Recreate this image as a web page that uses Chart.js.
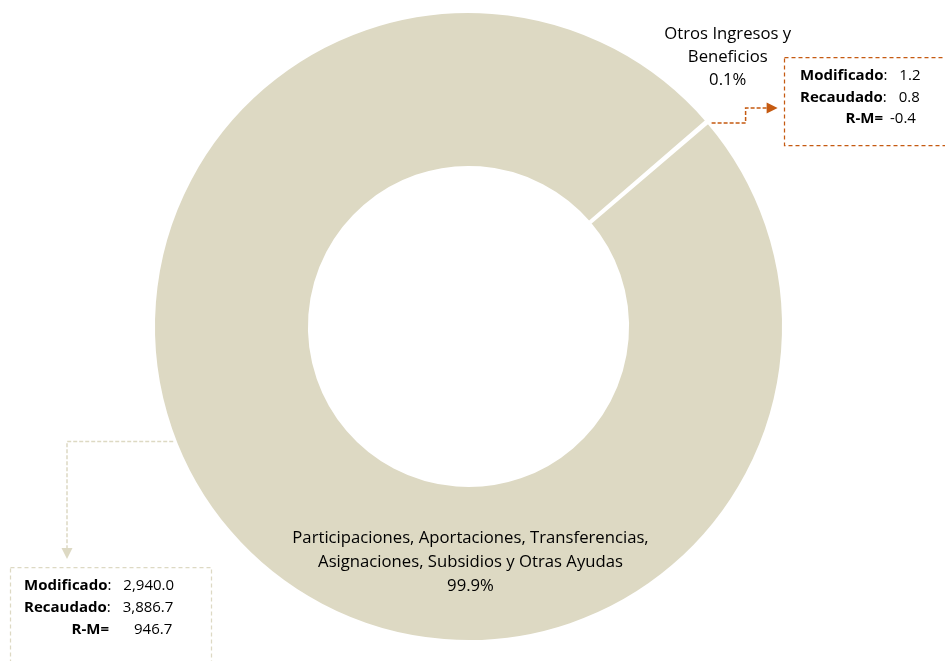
<!DOCTYPE html>
<html>
<head>
<meta charset="utf-8">
<script src="https://cdn.jsdelivr.net/npm/chart.js@4.4.1/dist/chart.umd.min.js"></script>
<style>
html,body{margin:0;padding:0;background:#fff;}
#wrap{width:945px;height:661px;position:relative;}
</style>
</head>
<body>
<div id="wrap"><canvas id="c"></canvas></div>
<script>
const categories = ['Otros Ingresos y Beneficios', 'Participaciones, Aportaciones, Transferencias, Asignaciones, Subsidios y Otras Ayudas'];
const labelLines = [['Otros Ingresos y', 'Beneficios'], ['Participaciones, Aportaciones, Transferencias,', 'Asignaciones, Subsidios y Otras Ayudas']];
const shares = [0.1, 99.9];
const modificado = [1.2, 2940.0];
const recaudado = [0.8, 3886.7];
const diferencia = [-0.4, 946.7];

const FONT = '"Open Sans", "Noto Sans", sans-serif';
const BEIGE = '#DDD9C3';
const ORANGE = '#C55A11';

function fmt(v){
  return v.toLocaleString('en-US',{minimumFractionDigits:1, maximumFractionDigits:1});
}

function arrow(ctx, x, y, dir, color){
  ctx.save();
  ctx.fillStyle = color;
  ctx.beginPath();
  if (dir === 'right'){
    ctx.moveTo(x, y); ctx.lineTo(x-11, y-5.5); ctx.lineTo(x-11, y+5.5);
  } else {
    ctx.moveTo(x, y); ctx.lineTo(x-5.5, y-11); ctx.lineTo(x+5.5, y-11);
  }
  ctx.closePath(); ctx.fill();
  ctx.restore();
}

function callout(ctx, x, y, w, h, color, i, lh, rmGap, pad){
  ctx.save();
  ctx.strokeStyle = color; ctx.lineWidth = 1.25; ctx.setLineDash([4,3]);
  ctx.strokeRect(x+0.5, y+0.5, w, h);
  ctx.setLineDash([]);
  ctx.fillStyle = '#000';
  ctx.textBaseline = 'middle';
  ctx.textAlign = 'left';
  const rows = [['Modificado', modificado[i]], ['Recaudado', recaudado[i]]];
  let yy = y + 19;
  rows.forEach(r => {
    ctx.font = 'bold 15px ' + FONT;
    ctx.fillText(r[0], x + pad, yy);
    const bw = ctx.measureText(r[0]).width;
    ctx.font = '15px ' + FONT;
    ctx.fillText(':', x + pad + bw, yy);
    const cw = ctx.measureText(':').width;
    ctx.fillText(fmt(r[1]), x + pad + bw + cw + 12, yy);
    yy += lh;
  });
  ctx.font = 'bold 15px ' + FONT;
  ctx.textAlign = 'right';
  ctx.fillText('R-M=', x + 99, yy);
  ctx.font = '15px ' + FONT;
  ctx.textAlign = 'left';
  ctx.fillText(fmt(diferencia[i]), x + 99 + rmGap, yy);
  ctx.restore();
}

const labelPlugin = {
  id: 'labelsAndCallouts',
  afterDraw(chart){
    const ctx = chart.ctx;
    const meta = chart.getDatasetMeta(0);
    const a0 = meta.data[0];
    const cx = a0.x, cy = a0.y, R = a0.outerRadius;
    ctx.save();
    ctx.fillStyle = '#000';
    ctx.textAlign = 'center';
    ctx.textBaseline = 'middle';
    ctx.font = '16.7px ' + FONT;
    // small slice label
    let lx = cx + R*0.823, ly = cy - R*0.929;
    labelLines[0].concat([shares[0].toFixed(1) + '%']).forEach((t, k) => ctx.fillText(t, lx, ly + k*23));
    // big slice label
    lx = cx + 2; ly = cy + R*0.672;
    labelLines[1].concat([shares[1].toFixed(1) + '%']).forEach((t, k) => ctx.fillText(t, lx, ly + k*24));
    ctx.restore();

    // connector for small slice (from gap on outer edge)
    const ang = (a0.startAngle + a0.endAngle) / 2;
    const px = cx + R*Math.cos(ang), py = cy + R*Math.sin(ang);
    ctx.save();
    ctx.strokeStyle = ORANGE; ctx.lineWidth = 1.5; ctx.setLineDash([4,2]);
    ctx.beginPath();
    ctx.moveTo(px + 4, py + 1.5);
    ctx.lineTo(px + 38, py + 1.5);
    ctx.lineTo(px + 38, py - 13.5);
    ctx.lineTo(px + 60, py - 13.5);
    ctx.stroke();
    ctx.restore();
    arrow(ctx, px + 70, py - 13.5, 'right', ORANGE);
    callout(ctx, 784, 57, 170, 88, ORANGE, 0, 21.5, 7, 16);

    // connector for big slice
    const a1 = 158.6 * Math.PI/180;
    const qx = cx + R*Math.cos(a1), qy = cy + R*Math.sin(a1);
    ctx.save();
    ctx.strokeStyle = BEIGE; ctx.lineWidth = 1.5; ctx.setLineDash([4,2]);
    ctx.beginPath();
    ctx.moveTo(qx - 2, qy);
    ctx.lineTo(67, qy);
    ctx.lineTo(67, 548);
    ctx.stroke();
    ctx.restore();
    arrow(ctx, 67, 559, 'down', BEIGE);
    callout(ctx, 10, 567, 201, 120, BEIGE, 1, 22, 25, 14);
  }
};

new Chart(document.getElementById('c'), {
  type: 'doughnut',
  data: {
    labels: categories,
    datasets: [{
      data: shares,
      backgroundColor: [BEIGE, BEIGE],
      borderColor: '#ffffff',
      borderWidth: 3,
      hoverOffset: 0
    }]
  },
  options: {
    responsive: true,
    maintainAspectRatio: false,
    animation: false,
    cutout: '50.5%',
    rotation: 49.2,
    layout: { padding: { top: 10, bottom: 18, left: 152, right: 160 } },
    plugins: { legend: { display: false }, tooltip: { enabled: false } },
    events: []
  },
  plugins: [labelPlugin]
});
</script>
</body>
</html>
